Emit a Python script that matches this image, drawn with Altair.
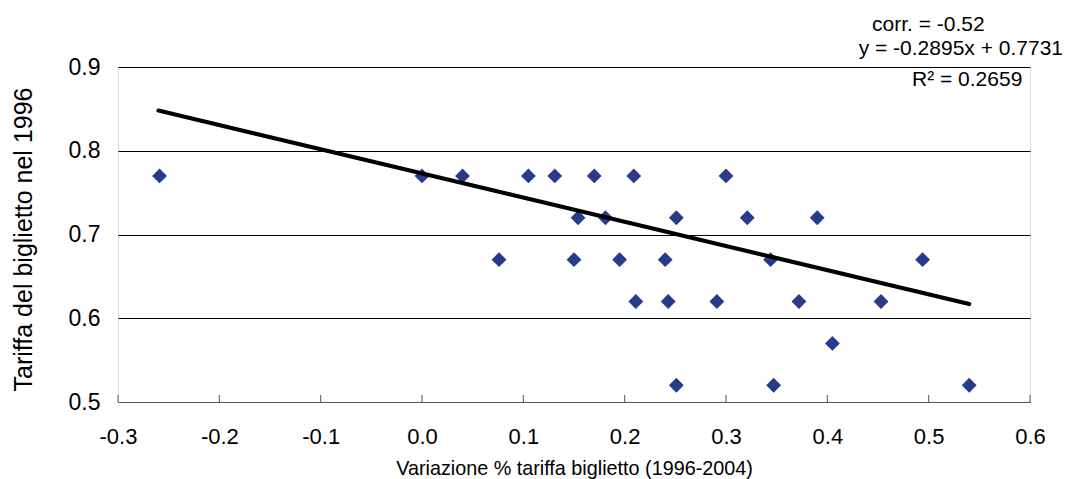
import altair as alt
import pandas as pd

# Scatter points
x_vals = [-0.259, 0.000, 0.040, 0.105, 0.131, 0.170, 0.209, 0.300,
          0.154, 0.181, 0.251, 0.321, 0.390,
          0.076, 0.150, 0.195, 0.240, 0.344, 0.494,
          0.211, 0.243, 0.291, 0.372, 0.453,
          0.405,
          0.251, 0.347, 0.540]
y_vals = [0.77, 0.77, 0.77, 0.77, 0.77, 0.77, 0.77, 0.77,
          0.72, 0.72, 0.72, 0.72, 0.72,
          0.67, 0.67, 0.67, 0.67, 0.67, 0.67,
          0.62, 0.62, 0.62, 0.62, 0.62,
          0.57,
          0.52, 0.52, 0.52]

# Trend line end points
trend_x = [-0.26, 0.54]
trend_y = [0.848, 0.617]

x_ticks = [-0.3, -0.2, -0.1, 0.0, 0.1, 0.2, 0.3, 0.4, 0.5, 0.6]
y_ticks = [0.5, 0.6, 0.7, 0.8, 0.9]

note_text = ["corr. = -0.52", "y = -0.2895x + 0.7731", "R\u00b2 = 0.2659"]

x_title = "Variazione % tariffa biglietto (1996-2004)"
y_title = "Tariffa del biglietto nel 1996"

FONT = "Liberation Sans"
W, H = 912, 335

pts = pd.DataFrame({"x": x_vals, "y": y_vals})
trend = pd.DataFrame({"x": trend_x, "y": trend_y})
ticks = pd.DataFrame({"t": x_ticks})

xscale = alt.Scale(domain=[-0.3, 0.6], nice=False, zero=False)
yscale = alt.Scale(domain=[0.5, 0.9], nice=False, zero=False)

label_expr = "datum.value < -0.0001 ? '-' + format(abs(datum.value), '.1f') : format(abs(datum.value), '.1f')"

xaxis = alt.Axis(values=x_ticks, labelExpr=label_expr, title=x_title,
                 grid=False, ticks=False, domain=True, domainColor="#555555",
                 domainWidth=1, labelPadding=24, labelFontSize=22, labelFont=FONT,
                 labelColor="black", labelFlush=False, labelOverlap=False,
                 labelBound=False,
                 titleFont=FONT, titleFontSize=19.8,
                 titleFontWeight="normal", titleColor="black",
                 titleY=72, titleBaseline="alphabetic")
yaxis = alt.Axis(values=y_ticks, format=".1f", title=y_title,
                 grid=True, gridColor="black", gridOpacity=1, gridWidth=1,
                 ticks=False, domain=False, labelPadding=18,
                 labelFontSize=23, labelFont=FONT, labelColor="black",
                 labelFlush=False, labelOverlap=False,
                 titleFont=FONT, titleFontSize=25, titleFontWeight="normal",
                 titleColor="black", titleAngle=270, titleX=-87, titleY=172,
                 titleBaseline="alphabetic", titleAlign="center")

points = alt.Chart(pts).mark_point(
    shape="diamond", filled=True, size=220, color="#283B8A", opacity=1
).encode(
    x=alt.X("x:Q", scale=xscale, axis=xaxis),
    y=alt.Y("y:Q", scale=yscale, axis=yaxis),
)

tick_marks = alt.Chart(ticks).mark_rule(color="#555555", strokeWidth=1).encode(
    x=alt.X("t:Q", scale=xscale),
    y=alt.value(H - 7),
    y2=alt.value(H),
)

line = alt.Chart(trend).mark_line(color="black", strokeWidth=4.2, strokeCap="round").encode(
    x=alt.X("x:Q", scale=xscale),
    y=alt.Y("y:Q", scale=yscale),
)

NFS = 21
n1 = alt.Chart(pd.DataFrame({"t": [note_text[0]]})).mark_text(
    font=FONT, fontSize=NFS, align="left", baseline="alphabetic", color="black"
).encode(text="t:N", x=alt.value(754), y=alt.value(-36))
n2 = alt.Chart(pd.DataFrame({"t": [note_text[1]]})).mark_text(
    font=FONT, fontSize=NFS, align="right", baseline="alphabetic", color="black"
).encode(text="t:N", x=alt.value(945), y=alt.value(-12))
n3 = alt.Chart(pd.DataFrame({"t": [note_text[2]]})).mark_text(
    font=FONT, fontSize=NFS, align="left", baseline="alphabetic", color="black"
).encode(text="t:N", x=alt.value(794), y=alt.value(19))

chart = alt.layer(points, tick_marks, line, n1, n2, n3).properties(
    width=W, height=H,
    autosize=alt.AutoSizeParams(type="none"),
    padding={"left": 110, "top": 59, "right": 34, "bottom": 77},
).configure_view(stroke=None).configure(background="white")

chart.save("out.html", embed_options={"renderer": "svg", "actions": False})
